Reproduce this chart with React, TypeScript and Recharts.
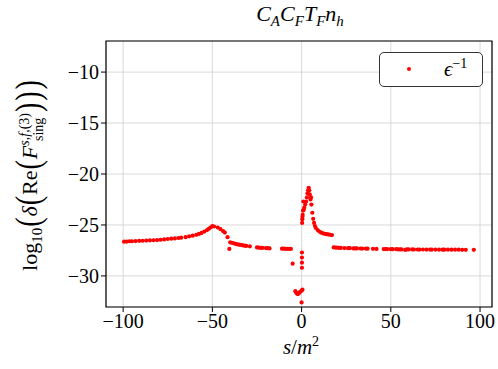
import React from 'react';
import {
  ScatterChart,
  Scatter,
  XAxis,
  YAxis,
  CartesianGrid,
  ReferenceArea,
} from 'recharts';

// left branch, s/m^2 from -100 to -5
const leftX = [
  -99.5, -98, -96.5, -95, -93, -91, -89, -87, -85, -83, -81, -79, -77, -75, -73, -71, -69, -67.5, -65, -63,
  -61, -59, -57.5, -56, -54.5, -53, -52, -51, -50, -49, -47, -45.5, -44, -43, -41.5, -40.5, -40, -39, -38,
  -37, -36, -35, -34, -33, -32, -31, -29, -25, -24, -23, -22, -20, -19, -18, -11, -10, -9, -8, -7, -6, -5,
];
const leftY = [
  -26.64, -26.63, -26.6, -26.6, -26.58, -26.56, -26.55, -26.53, -26.51, -26.5, -26.48, -26.45, -26.42, -26.38,
  -26.35, -26.32, -26.28, -26.25, -26.2, -26.12, -26.05, -25.97, -25.88, -25.78, -25.65, -25.5, -25.38, -25.25,
  -25.12, -25.15, -25.25, -25.4, -25.6, -25.75, -26.2, -27.35, -26.7, -26.75, -26.8, -26.85, -26.9, -26.93,
  -26.96, -27.0, -27.03, -27.06, -27.1, -27.2, -27.22, -27.24, -27.25, -27.27, -27.28, -27.3, -27.33, -27.33,
  -27.34, -27.34, -27.35, -27.35, -28.8,
];

// region around threshold s = 0
const centerX = [
  -3.5, -3, -2.5, -2, -1.5, -1, 0, 0.5, 0, 0.2, 0.2, 0.2, 0.2, 0.3, 0.4, 0.5, 0.6, 0.8, 1, 1.2, 1.5, 2, 2.5, 3,
  3.3, 3.6, 4, 4.3, 4.6, 5, 5.3, 5.5, 6, 6.5, 7, 7.5, 8, 9, 10, 11, 12, 13, 14, 15, 16, 17,
];
const centerY = [
  -31.5, -31.65, -31.75, -31.78, -31.7, -31.6, -31.45, -31.35, -32.6, -29.2, -28.7, -28.2, -27.7, -24.8, -24.45,
  -24.2, -24.0, -23.6, -22.7, -23.5, -23.3, -23.0, -22.7, -22.3, -21.9, -21.6, -21.35, -21.6, -22.0, -22.5, -22.3,
  -23.0, -23.8, -24.4, -24.8, -25.1, -25.3, -25.5, -25.65, -25.75, -25.82, -25.87, -25.9, -25.93, -25.96, -25.99,
];

// right branch, s/m^2 from 18 to 97
const rightX = [
  18, 19, 20, 21, 22, 24, 26, 27, 29, 30, 31, 33, 34, 36, 37, 40, 42, 46, 47, 48, 50, 51, 53, 54, 55, 56, 58, 59,
  60, 62, 63, 65, 66, 68, 70, 72, 73, 75, 77, 79, 80, 82, 84, 86, 88, 90, 92, 96.5,
];
const rightY = [
  -27.2, -27.22, -27.23, -27.24, -27.25, -27.27, -27.28, -27.28, -27.3, -27.3, -27.3, -27.31, -27.32, -27.32,
  -27.33, -27.34, -27.35, -27.37, -27.37, -27.37, -27.38, -27.38, -27.38, -27.39, -27.4, -27.4, -27.45, -27.4,
  -27.4, -27.4, -27.41, -27.41, -27.42, -27.41, -27.42, -27.42, -27.42, -27.42, -27.43, -27.43, -27.43, -27.43,
  -27.43, -27.43, -27.43, -27.44, -27.44, -27.44,
];

const xTicks = [-100, -50, 0, 50, 100];
const yTicks = [-30, -25, -20, -15, -10];

const xDomain: [number, number] = [-109.6, 106.7];
const yDomain: [number, number] = [-33.05, -6.95];

const serif = '"Liberation Serif", "DejaVu Serif", serif';

const toPoints = (xs: number[], ys: number[]) => xs.map((x, i) => ({ x, y: ys[i] }));
const data = [
  ...toPoints(leftX, leftY),
  ...toPoints(centerX, centerY),
  ...toPoints(rightX, rightY),
];

const fmt = (v: number) => (v < 0 ? '\u2212' + Math.abs(v) : String(v));

const Dot = (props: any) => <circle cx={props.cx} cy={props.cy} r={2.1} fill="#ff0000" />;

const paren = (c: string) => (
  <span style={{ fontSize: 28, display: 'inline-block', transform: 'scaleY(1.3)', margin: '0 1px' }}>{c}</span>
);

export default function App() {
  return (
    <div style={{ position: 'absolute', left: 0, top: 0, width: 498, height: 369, background: '#fff' }}>
      <ScatterChart width={498} height={369} margin={{ top: 41, right: 6, bottom: 32, left: 46 }}>
        <CartesianGrid stroke="#cfcfcf" strokeWidth={0.8} />
        <XAxis
          type="number"
          dataKey="x"
          domain={xDomain}
          ticks={xTicks}
          allowDataOverflow
          height={30}
          tickSize={5}
          tickLine={{ stroke: '#000' }}
          axisLine={false}
          tickFormatter={fmt}
          tick={{ fill: '#000', fontSize: 20, fontFamily: serif }}
        />
        <YAxis
          type="number"
          dataKey="y"
          domain={yDomain}
          ticks={yTicks}
          allowDataOverflow
          width={60}
          tickSize={5}
          tickLine={{ stroke: '#000' }}
          axisLine={false}
          tickFormatter={fmt}
          tick={{ fill: '#000', fontSize: 20, fontFamily: serif }}
        />
        <ReferenceArea
          x1={xDomain[0]}
          x2={xDomain[1]}
          y1={yDomain[0]}
          y2={yDomain[1]}
          fill="none"
          stroke="#000"
          strokeWidth={1.2}
          ifOverflow="visible"
        />
        <Scatter data={data} shape={Dot} isAnimationActive={false} />
      </ScatterChart>

      {/* legend */}
      <div
        style={{
          position: 'absolute',
          left: 379,
          top: 52,
          width: 102,
          height: 33,
          border: '1.3px solid #333',
          borderRadius: 5,
          background: '#fff',
          fontFamily: serif,
        }}
      >
        <span
          style={{
            position: 'absolute',
            left: 27,
            top: 14,
            width: 4,
            height: 4,
            borderRadius: '50%',
            background: '#ff0000',
          }}
        />
        <span style={{ position: 'absolute', left: 64, top: 3, fontSize: 21, fontStyle: 'italic' }}>
          ϵ<sup style={{ fontSize: 14, fontStyle: 'normal' }}>−1</sup>
        </span>
      </div>

      <div
        style={{
          position: 'absolute',
          left: 0,
          top: 1,
          width: 600,
          textAlign: 'center',
          fontFamily: serif,
          fontSize: 22,
          fontStyle: 'italic',
          whiteSpace: 'nowrap',
        }}
      >
        C<sub style={{ fontSize: 15 }}>A</sub>C<sub style={{ fontSize: 15 }}>F</sub>T
        <sub style={{ fontSize: 15 }}>F</sub>n<sub style={{ fontSize: 15 }}>h</sub>
      </div>

      <div
        style={{
          position: 'absolute',
          left: 0,
          top: 334,
          width: 602,
          textAlign: 'center',
          fontFamily: serif,
          fontSize: 21,
          whiteSpace: 'nowrap',
        }}
      >
        <i>s</i>/<i>m</i>
        <sup style={{ fontSize: 14 }}>2</sup>
      </div>

      <div
        style={{
          position: 'absolute',
          left: 28 - 160,
          top: 175 - 18,
          width: 320,
          height: 36,
          lineHeight: '36px',
          textAlign: 'center',
          transform: 'rotate(-90deg)',
          fontFamily: serif,
          fontSize: 22,
          whiteSpace: 'nowrap',
        }}
      >
        log<sub style={{ fontSize: 15 }}>10</sub>
        {paren('(')}
        <i>δ</i>
        {paren('(')}Re{paren('(')}
        <i>F</i>
        <span
          style={{
            display: 'inline-flex',
            flexDirection: 'column',
            fontSize: 14,
            lineHeight: 1,
            verticalAlign: 'middle',
          }}
        >
          <span>
            <i>s,f,</i>(3)
          </span>
          <span>sing</span>
        </span>
        {paren(')')}
        {paren(')')}
        {paren(')')}
      </div>
    </div>
  );
}
